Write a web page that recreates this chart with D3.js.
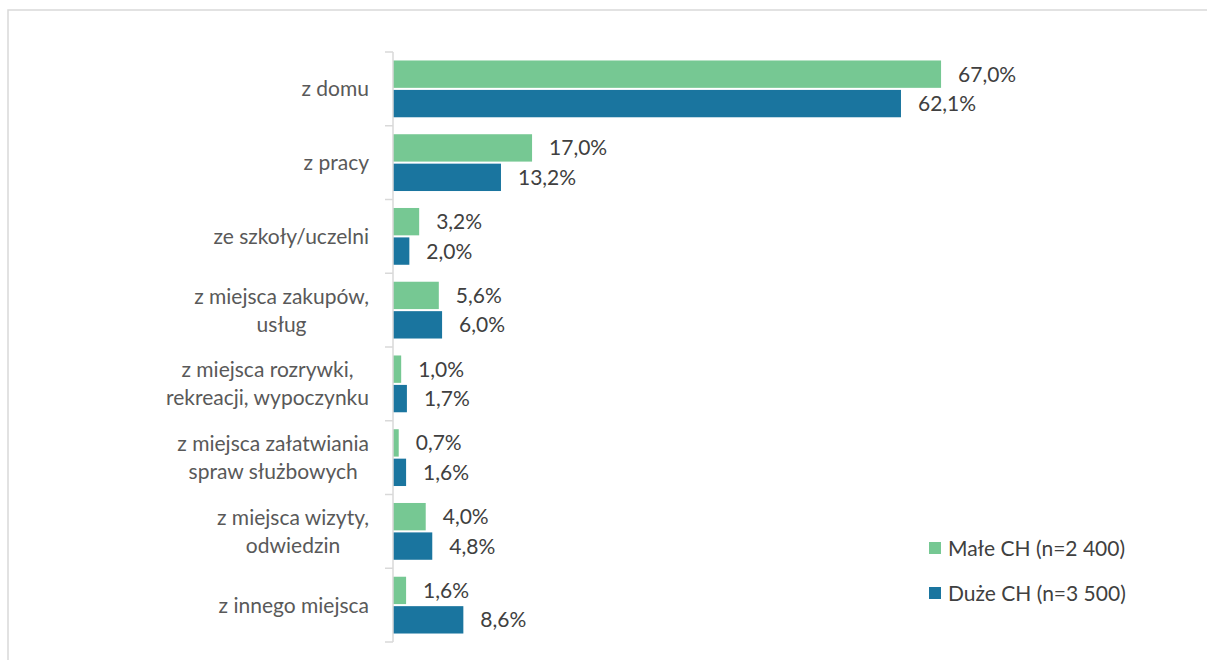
<!DOCTYPE html>
<html><head><meta charset="utf-8">
<script src="https://cdn.jsdelivr.net/npm/d3@7"></script>
<style>
html,body{margin:0;padding:0;background:#fff;}
svg{display:block;font-family:Lato, "Open Sans", sans-serif;}
</style></head>
<body>
<svg id="chart" width="1207" height="660"></svg>
<script>
const categories = [
  ["z domu"],
  ["z pracy"],
  ["ze szkoły/uczelni"],
  ["z miejsca zakupów,", "usług"],
  ["z miejsca rozrywki,", "rekreacji, wypoczynku"],
  ["z miejsca załatwiania", "spraw służbowych"],
  ["z miejsca wizyty,", "odwiedzin"],
  ["z innego miejsca"]
];
const seriesNames = ["Małe CH (n=2 400)", "Duże CH (n=3 500)"];
const smallCH = [67.0, 17.0, 3.2, 5.6, 1.0, 0.7, 4.0, 1.6];
const largeCH = [62.1, 13.2, 2.0, 6.0, 1.7, 1.6, 4.8, 8.6];
const colors = ["#76c893", "#1a759f"];

const svg = d3.select("#chart");
const fs = 21;

// outer border
svg.append("rect").attr("x", 8).attr("y", 10).attr("width", 1201).attr("height", 670)
  .attr("fill", "none").attr("stroke", "#d9d9d9").attr("stroke-width", 1.5);

const x0 = 393;
const x = d3.scaleLinear().domain([0, 70]).range([x0, x0 + 70 * 8.18]);
const idx = d3.range(categories.length);
const y = d3.scaleBand().domain(idx).range([52, 642]).paddingInner(0.23).paddingOuter(0.115);
const ySub = d3.scaleBand().domain([0, 1]).range([0, y.bandwidth()]).paddingInner(0.07);

const series = [smallCH, largeCH];

// bars
series.forEach((vals, s) => {
  svg.append("g").selectAll("rect").data(vals).join("rect")
    .attr("x", x(0))
    .attr("y", (d, i) => y(i) + ySub(s))
    .attr("width", d => x(d) - x(0))
    .attr("height", ySub.bandwidth())
    .attr("fill", colors[s]);
  svg.append("g").selectAll("text").data(vals).join("text")
    .attr("x", d => x(d) + 17)
    .attr("y", (d, i) => y(i) + ySub(s) + ySub.bandwidth() / 2)
    .attr("dy", "0.36em")
    .attr("font-size", fs)
    .attr("fill", "#404040")
    .text(d => d.toFixed(1).replace(".", ",") + "%");
});

// axis line and boundary ticks
const [r0, r1] = y.range();
const axis = svg.append("g").attr("stroke", "#d9d9d9").attr("stroke-width", 1.5);
axis.append("line").attr("x1", x0).attr("x2", x0).attr("y1", r0).attr("y2", r1);
d3.range(categories.length + 1).forEach(i => {
  const yy = r0 + i * y.step();
  axis.append("line").attr("x1", x0 - 8).attr("x2", x0).attr("y1", yy).attr("y2", yy);
});

// category labels
const labelRight = 369;
const lineH = 28;
idx.forEach(i => {
  const lines = categories[i];
  const g = svg.append("g");
  const cy = y(i) + y.bandwidth() / 2;
  const texts = lines.map((t, k) => g.append("text")
    .attr("y", cy + (k - (lines.length - 1) / 2) * lineH)
    .attr("dy", "0.36em")
    .attr("font-size", fs)
    .attr("fill", "#595959")
    .attr("text-anchor", "middle")
    .text(t));
  const w = d3.max(texts, t => t.node().getComputedTextLength());
  texts.forEach(t => t.attr("x", labelRight - w / 2));
});

// legend
const legend = svg.append("g");
seriesNames.forEach((n, s) => {
  const ly = 548 + s * 45;
  legend.append("rect").attr("x", 929).attr("y", ly - 6).attr("width", 12).attr("height", 12).attr("fill", colors[s]);
  legend.append("text").attr("x", 948).attr("y", ly).attr("dy", "0.36em")
    .attr("font-size", fs).attr("fill", "#404040").text(n);
});
</script>
</body></html>
